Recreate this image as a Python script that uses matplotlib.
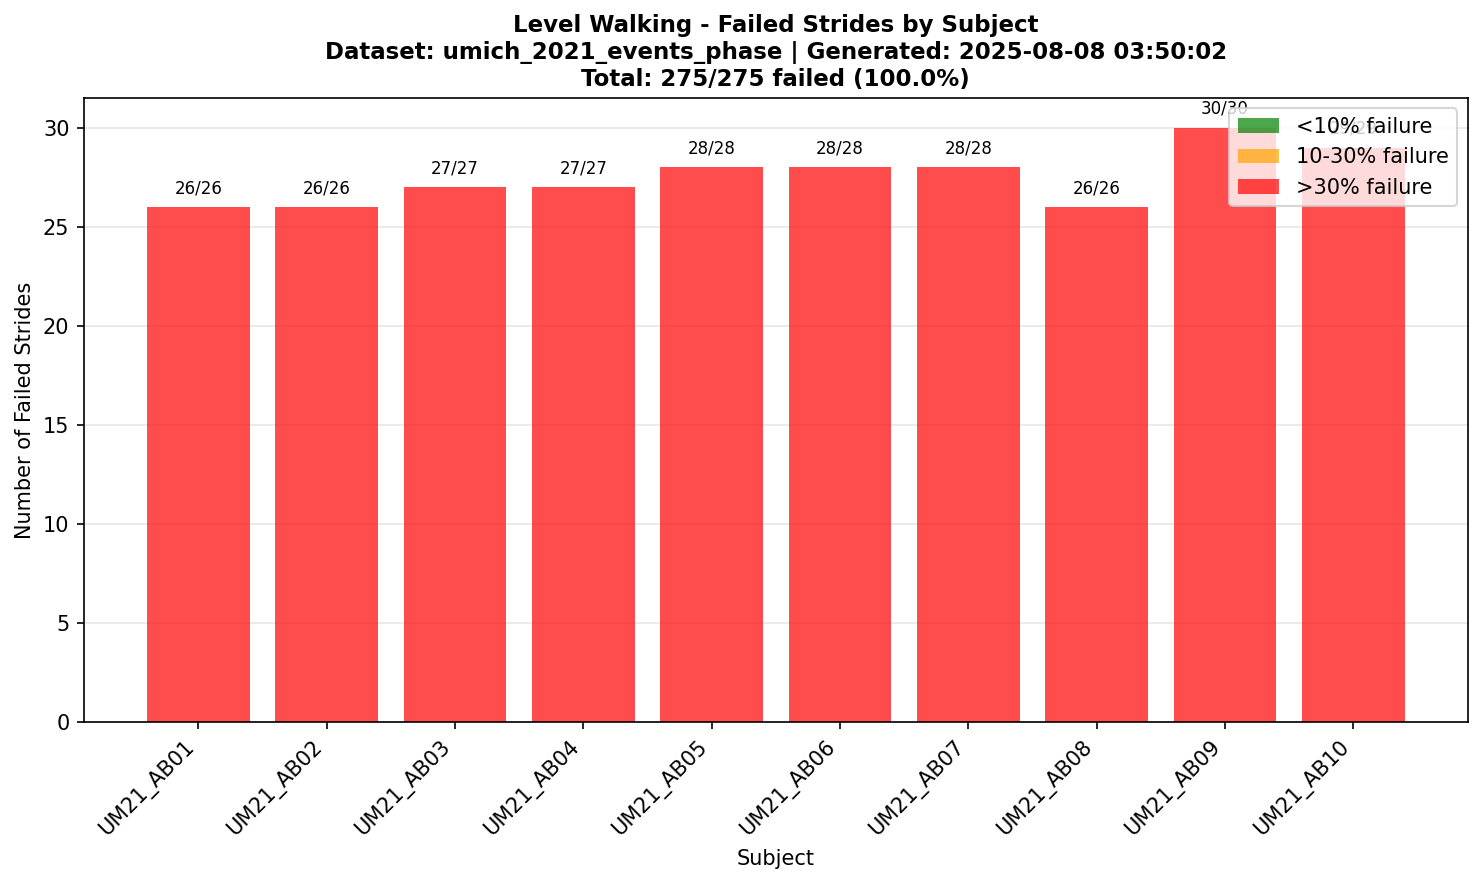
import matplotlib
matplotlib.use("Agg")
import matplotlib.pyplot as plt
from matplotlib.patches import Patch

subjects = ["UM21_AB01", "UM21_AB02", "UM21_AB03", "UM21_AB04", "UM21_AB05",
            "UM21_AB06", "UM21_AB07", "UM21_AB08", "UM21_AB09", "UM21_AB10"]
failed = [26, 26, 27, 27, 28, 28, 28, 26, 30, 29]
total = [26, 26, 27, 27, 28, 28, 28, 26, 30, 29]

fig, ax = plt.subplots(figsize=(1484 / 150, 883 / 150), dpi=150)
fig.subplots_adjust(left=0.0566, right=0.989, top=0.889, bottom=0.182)

x = range(len(subjects))
bars = ax.bar(x, failed, color="red", alpha=0.7)
for b, f, t in zip(bars, failed, total):
    ax.text(b.get_x() + b.get_width() / 2, b.get_height() + 0.5, f"{f}/{t}",
            ha="center", va="bottom", fontsize=8)

ax.set_xticks(list(x))
ax.set_xticklabels(subjects, rotation=45, ha="right")
ax.set_xlabel("Subject")
ax.set_ylabel("Number of Failed Strides")
ax.grid(axis="y", alpha=0.3)
ax.set_axisbelow(True)
ax.set_title("Level Walking - Failed Strides by Subject\n"
             "Dataset: umich_2021_events_phase | Generated: 2025-08-08 03:50:02\n"
             "Total: 275/275 failed (100.0%)", fontweight="bold", fontsize=11)

handles = [Patch(facecolor="green", edgecolor="none", alpha=0.7, label="<10% failure"),
           Patch(facecolor="orange", edgecolor="none", alpha=0.7, label="10-30% failure"),
           Patch(facecolor="red", edgecolor="none", alpha=0.7, label=">30% failure")]
ax.legend(handles=handles, loc="upper right")

fig.savefig("out.png", dpi=150)
